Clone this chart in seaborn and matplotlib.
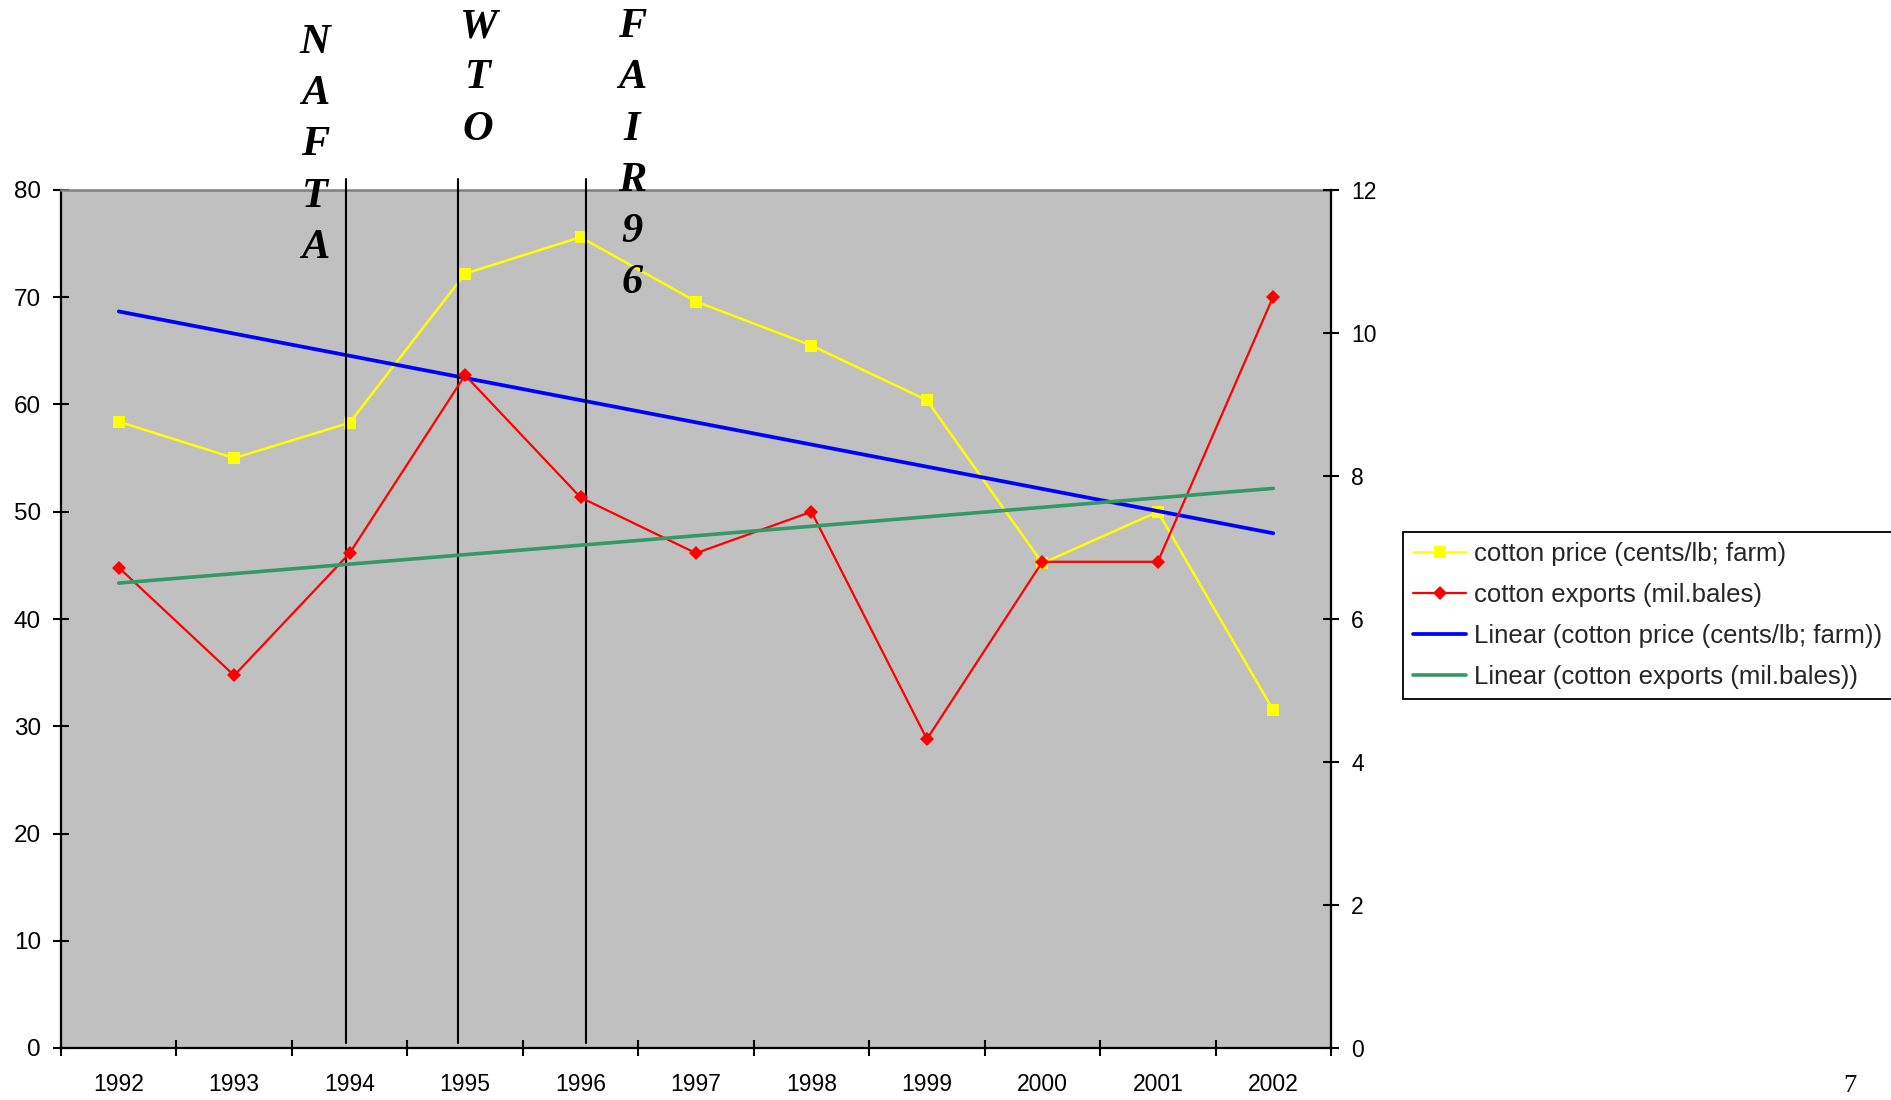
import numpy as np
import pandas as pd
import matplotlib
matplotlib.use("Agg")
import matplotlib.pyplot as plt
import seaborn as sns

# ---- data ----
years = ["1992", "1993", "1994", "1995", "1996", "1997",
         "1998", "1999", "2000", "2001", "2002"]
cotton_price = [58.4, 55.0, 58.3, 72.2, 75.6, 69.6, 65.5, 60.4, 45.2, 50.0, 31.5]   # cents/lb, farm
cotton_exports = [6.72, 5.21, 6.92, 9.41, 7.70, 6.92, 7.50, 4.32, 6.80, 6.80, 10.51]  # mil. bales

# policy events, placed on the category axis (0 = 1992)
event_labels = ["NAFTA", "WTO", "FAIR96"]
event_pos = [1.97, 2.94, 4.05]

price_label = "cotton price (cents/lb; farm)"
export_label = "cotton exports (mil.bales)"
price_trend_label = "Linear (" + price_label + ")"
export_trend_label = "Linear (" + export_label + ")"

df = pd.DataFrame({
    "i": np.arange(len(years)),
    "price": cotton_price,
    "exports": cotton_exports,
})

sns.set_theme(style="ticks")
plt.rcParams["font.family"] = ["Liberation Sans", "DejaVu Sans"]

W, H = 1891, 1100
fig = plt.figure(figsize=(W / 100, H / 100), dpi=100)
ax = fig.add_axes([61 / W, 1 - 1048 / H, (1331 - 61) / W, (1048 - 190) / H])
ax2 = ax.twinx()

ax.set_facecolor("#C0C0C0")

# price series and its linear trend (left axis)
sns.lineplot(data=df, x="i", y="price", ax=ax, color="#FFFF00", lw=1.8,
             marker="s", markersize=9, markeredgewidth=0, label=price_label)
sns.regplot(data=df, x="i", y="price", ax=ax, scatter=False, ci=None,
            color="#0000FF", label=price_trend_label, line_kws=dict(lw=2.7))

# export series and its linear trend (right axis)
sns.lineplot(data=df, x="i", y="exports", ax=ax2, color="#FF0000", lw=1.6,
             marker="D", markersize=7, markeredgewidth=0, label=export_label)
sns.regplot(data=df, x="i", y="exports", ax=ax2, scatter=False, ci=None,
            color="#339966", label=export_trend_label, line_kws=dict(lw=2.6))

for a in (ax, ax2):
    if a.get_legend() is not None:
        a.get_legend().remove()
    a.set_xlabel("")
    a.set_ylabel("")
    a.grid(False)

# axes limits and ticks
ax.set_xlim(-0.5, len(years) - 0.5)
ax.set_ylim(0, 80)
ax2.set_ylim(0, 12)
ax.set_yticks(np.arange(0, 81, 10))
ax2.set_yticks(np.arange(0, 13, 2))
ax.set_xticks(np.arange(-0.5, len(years), 1.0))
ax.set_xticklabels([])
ax.set_xticks(df["i"], minor=True)
ax.set_xticklabels(years, minor=True)

ax.tick_params(axis="x", which="major", direction="inout", length=11, width=1.5, color="black")
ax.tick_params(axis="x", which="minor", length=0, pad=18, labelsize=16.5, labelcolor="black")
ax.tick_params(axis="y", which="major", direction="inout", length=11, width=1.5,
               color="black", pad=9, labelsize=17.5, labelcolor="black")
ax2.tick_params(axis="y", which="major", direction="inout", length=11, width=1.5,
                color="black", pad=9, labelsize=16.5, labelcolor="black")

for name, sp in ax.spines.items():
    sp.set_visible(name in ("left", "bottom", "top"))
    sp.set_linewidth(1.6)
    sp.set_color("black")
ax.spines["top"].set_color("#808080")
ax.spines["top"].set_linewidth(1.8)
for name, sp in ax2.spines.items():
    sp.set_visible(name == "right")
    sp.set_linewidth(1.6)
    sp.set_color("black")

# event markers: vertical lines slightly overshooting the plot area top
for x in event_pos:
    ax.axvline(x, ymin=0.006, ymax=1.013, color="black", lw=1.5, clip_on=False, zorder=5)

# vertical event labels, one letter per row
letter_font = dict(family=["Liberation Serif", "DejaVu Serif"], weight="bold",
                   style="italic", size=30.5, color="black")
label_x = [315, 478, 632]
label_base = [53, 37.3, 37.3]
step = 51.2
for lab, xpx, y0 in zip(event_labels, label_x, label_base):
    for k, ch in enumerate(lab):
        fig.text(xpx / W, 1 - (y0 + k * step) / H, ch, ha="center", va="baseline",
                 **letter_font)

# page number
fig.text(1850 / W, 1 - 1092 / H, "7", ha="center", va="baseline",
         family=["Liberation Serif", "DejaVu Serif"], size=19, color="black")

# combined legend
h1, l1 = ax.get_legend_handles_labels()
h2, l2 = ax2.get_legend_handles_labels()
hd = dict(zip(l1 + l2, h1 + h2))
order = [price_label, export_label, price_trend_label, export_trend_label]
leg = fig.legend([hd[k] for k in order], order, loc="upper left",
                 bbox_to_anchor=(1403 / W, 1 - 532 / H), bbox_transform=fig.transFigure,
                 borderaxespad=0, frameon=True, fancybox=False, fontsize=18.5,
                 handlelength=2.05, handletextpad=0.3, labelspacing=0.66,
                 borderpad=0.4, framealpha=1)
leg.get_frame().set_edgecolor("black")
leg.get_frame().set_linewidth(1.3)

fig.savefig("out.png", dpi=100)
